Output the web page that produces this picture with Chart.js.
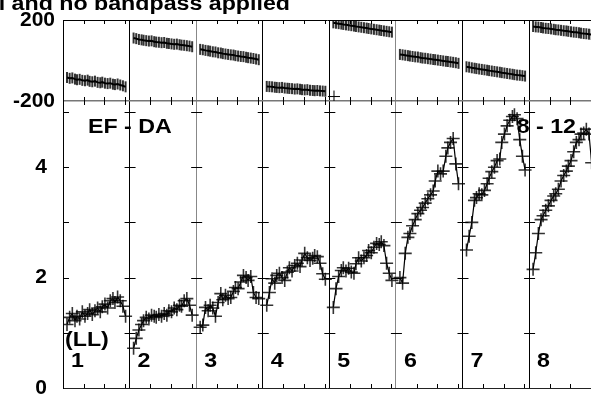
<!DOCTYPE html>
<html>
<head>
<meta charset="utf-8">
<script src="https://cdn.jsdelivr.net/npm/chart.js@4.4.0/dist/chart.umd.min.js"></script>
<style>
  body { margin: 0; background: #fff; }
  #wrap { width: 591px; height: 397px; }
</style>
</head>
<body>
<div id="wrap"><canvas id="vplot" width="591" height="397"></canvas></div>
<script>
// time of each sample inside a scan (fraction of the scan)
const scanTimes = [0.06, 0.10, 0.14, 0.18, 0.21, 0.25, 0.29, 0.33, 0.37, 0.40, 0.44, 0.48,
                   0.52, 0.56, 0.59, 0.63, 0.67, 0.71, 0.75, 0.78, 0.82, 0.86, 0.90, 0.94];
const scanLabels = ["1", "2", "3", "4", "5", "6", "7", "8"];
const timeTicks = [0.31, 0.62, 0.93];
const ampTickValues = [1, 2, 3, 4, 5];

// amplitude per scan
const amp1 = [1.15, 1.28, 1.35, 1.22, 1.30, 1.25, 1.38, 1.30, 1.35, 1.42, 1.33, 1.40, 1.45, 1.38, 1.47, 1.52, 1.45, 1.58, 1.62, 1.55, 1.65, 1.58, 1.48, 1.30];
const amp2 = [0.72, 0.90, 1.05, 1.15, 1.22, 1.28, 1.25, 1.32, 1.30, 1.28, 1.33, 1.30, 1.35, 1.32, 1.40, 1.38, 1.45, 1.42, 1.50, 1.48, 1.58, 1.62, 1.50, 1.32];
const amp3 = [1.10, 1.14, 1.46, 1.40, 1.50, 1.45, 1.30, 1.55, 1.71, 1.60, 1.68, 1.62, 1.64, 1.75, 1.82, 1.80, 1.92, 2.04, 2.00, 1.95, 2.02, 1.73, 1.64, 1.62];
const amp4 = [1.50, 1.73, 1.98, 1.90, 2.04, 2.08, 2.00, 1.95, 2.10, 2.18, 2.12, 2.22, 2.26, 2.20, 2.32, 2.44, 2.36, 2.31, 2.35, 2.40, 2.38, 2.26, 2.07, 1.97];
const amp5 = [1.46, 1.80, 2.02, 2.13, 2.18, 2.12, 2.17, 2.10, 2.08, 2.25, 2.36, 2.30, 2.36, 2.40, 2.49, 2.45, 2.55, 2.62, 2.60, 2.65, 2.58, 2.26, 2.08, 1.95];
const amp6 = [2.00, 1.90, 2.44, 2.73, 2.80, 2.94, 3.05, 3.16, 3.22, 3.27, 3.35, 3.43, 3.50, 3.57, 3.75, 3.93, 3.88, 3.93, 4.20, 4.35, 4.45, 4.52, 4.06, 3.70];
const amp7 = [2.50, 2.75, 3.00, 3.40, 3.45, 3.52, 3.50, 3.58, 3.70, 3.80, 3.92, 4.00, 4.12, 4.15, 4.45, 4.60, 4.75, 4.85, 4.92, 4.95, 4.88, 4.50, 4.20, 3.95];
const amp8 = [2.15, 2.45, 2.80, 3.05, 3.12, 3.22, 3.30, 3.40, 3.48, 3.52, 3.60, 3.75, 3.85, 3.93, 4.02, 4.12, 4.28, 4.45, 4.50, 4.60, 4.62, 4.69, 4.60, 4.08];

// phase per scan (degrees)
const phase1 = [-84, -88, -86, -92, -95, -93, -98, -100, -97, -103, -105, -102, -108, -110, -107, -112, -114, -112, -117, -119, -116, -121, -125, -130];
const phase2 = [111, 108, 104, 102, 100, 98, 96, 97, 93, 91, 90, 88, 89, 85, 84, 82, 80, 81, 78, 76, 75, 73, 71, 68];
const phase3 = [55, 53, 50, 48, 46, 43, 42, 38, 37, 34, 32, 30, 28, 27, 24, 22, 20, 19, 16, 14, 12, 10, 7, 4];
const phase4 = [-128, -129, -130, -132, -133, -134, -133, -136, -137, -138, -139, -141, -140, -142, -144, -145, -144, -147, -148, -149, -148, -150, -151, -152];
const phase5 = [186, 184, 182, 180, 178, 176, 174, 172, 170, 168, 166, 164, 162, 160, 158, 156, 154, 152, 150, 148, 146, 144, 142, 140];
const phase6 = [30, 28, 26, 24, 22, 20, 18, 17, 14, 12, 11, 9, 7, 5, 4, 2, 0, -2, -4, -5, -7, -9, -11, -14];
const phase7 = [-31, -33, -36, -38, -40, -42, -44, -46, -48, -50, -52, -54, -56, -58, -60, -62, -64, -66, -68, -70, -72, -73, -75, -77];
const phase8 = [168, 166, 165, 163, 161, 159, 158, 156, 154, 152, 151, 149, 147, 146, 144, 142, 140, 139, 137, 135, 133, 132, 130, 128];
// one wrapped phase sample at the start of scan 5
const strayScan = [4];
const strayTime = [0.07];
const strayPhase = [-178];

const ampScans = [amp1, amp2, amp3, amp4, amp5, amp6, amp7, amp8];
const phaseScans = [phase1, phase2, phase3, phase4, phase5, phase6, phase7, phase8];

const FONT = "'Liberation Sans', Arial, sans-serif";

const datasets = [];
ampScans.forEach((vals, s) => {
  datasets.push({
    yAxisID: "amp",
    data: vals.map((v, i) => ({ x: s + scanTimes[i], y: v })),
    borderColor: "#000",
    borderWidth: 1.2,
    pointStyle: "cross",
    pointRadius: 6.5,
    pointBorderWidth: 1.6,
    pointBorderColor: "rgba(0,0,0,0.8)",
    tension: 0,
  });
});
phaseScans.forEach((vals, s) => {
  datasets.push({
    yAxisID: "ph",
    data: vals.map((v, i) => ({ x: s + scanTimes[i], y: v })),
    borderColor: "#000",
    borderWidth: 2,
    pointStyle: "line",
    rotation: 90,
    pointRadius: 5.5,
    pointBorderWidth: 2,
    pointBorderColor: "rgba(0,0,0,0.8)",
    tension: 0,
  });
});
datasets.push({
  yAxisID: "ph",
  data: strayPhase.map((v, i) => ({ x: strayScan[i] + strayTime[i], y: v })),
  showLine: false,
  pointStyle: "cross",
  pointRadius: 6,
  pointBorderWidth: 1,
  pointBorderColor: "#000",
});

function wideText(ctx, str, px, py, align) {
  ctx.save();
  ctx.translate(px, py);
  ctx.scale(1.16, 1);
  ctx.textAlign = align || "left";
  ctx.fillText(str, 0, 0);
  ctx.restore();
}

const vplotDecor = {
  id: "vplotDecor",
  beforeDatasetsDraw(chart) {
    const { ctx, chartArea } = chart;
    const { x, amp, ph } = chart.scales;
    const top = ph.getPixelForValue(200);
    const mid = ph.getPixelForValue(-200);
    const bot = amp.getPixelForValue(0);
    ctx.save();
    ctx.strokeStyle = "#000";
    ctx.lineWidth = 1;
    ctx.beginPath();
    // time ticks on the frame lines
    for (let s = 0; s < scanLabels.length; s++) {
      for (const f of timeTicks) {
        const px = Math.round(x.getPixelForValue(s + f)) + 0.5;
        if (px > chartArea.right) continue;
        ctx.moveTo(px, top); ctx.lineTo(px, top + 4);
        ctx.moveTo(px, mid - 4); ctx.lineTo(px, mid + 4);
        ctx.moveTo(px, bot - 4); ctx.lineTo(px, bot);
      }
    }
    // amplitude ticks across scan dividers
    for (const v of ampTickValues) {
      const py = Math.round(amp.getPixelForValue(v)) + 0.5;
      for (let s = 0; s < scanLabels.length; s++) {
        const px = x.getPixelForValue(s);
        ctx.moveTo(s === 0 ? px : px - 5, py);
        ctx.lineTo(px + 6, py);
      }
    }
    ctx.stroke();

    ctx.fillStyle = "#000";
    ctx.font = "bold 20px " + FONT;
    wideText(ctx, "l and no bandpass applied", 290, 10, "right");
    wideText(ctx, "EF - DA", x.getPixelForValue(0) + 25, 133);
    wideText(ctx, "8 - 12", 576, 133, "right");
    wideText(ctx, "(LL)", x.getPixelForValue(0) + 2, 346);
    scanLabels.forEach((lab, s) => {
      wideText(ctx, lab, x.getPixelForValue(s) + 8, 367);
    });
    ctx.restore();
  },
};

const fixLeft = (scale) => {
  scale.width = 63;
  scale.paddingTop = 0;
  scale.paddingBottom = 0;
};

new Chart(document.getElementById("vplot"), {
  type: "line",
  data: { datasets },
  plugins: [vplotDecor],
  options: {
    responsive: false,
    animation: false,
    layout: { autoPadding: false, padding: { top: 20, left: 0, right: 0, bottom: 0 } },
    plugins: { legend: { display: false }, tooltip: { enabled: false } },
    scales: {
      x: {
        type: "linear",
        min: 0,
        max: 7.93,
        ticks: { display: false, stepSize: 1, includeBounds: false },
        grid: {
          drawTicks: false,
          color: (c) => (c.index === 2 || c.index === 5 ? "#888" : "#000"),
          lineWidth: 1,
        },
        border: { display: true, color: "#222", width: 1 },
        afterFit: (scale) => {
          scale.height = 9;
          scale.paddingLeft = 0;
          scale.paddingRight = 0;
        },
      },
      amp: {
        type: "linear",
        position: "left",
        stack: "panels",
        stackWeight: 287,
        min: 0,
        max: 5.2,
        ticks: {
          stepSize: 1,
          includeBounds: false,
          padding: 8,
          color: "#000",
          font: { family: FONT, weight: "bold", size: 21 },
          callback: (v) => (v % 2 === 0 ? String(v) : ""),
        },
        grid: { display: false },
        border: { display: true, color: "#000", width: 1 },
        afterFit: fixLeft,
      },
      ph: {
        type: "linear",
        position: "left",
        stack: "panels",
        stackWeight: 81,
        min: -200,
        max: 200,
        ticks: {
          stepSize: 200,
          padding: 8,
          color: "#000",
          font: { family: FONT, weight: "bold", size: 21 },
          callback: (v) => (v === 0 ? "" : String(v)),
        },
        grid: {
          drawTicks: false,
          color: (c) => (c.tick && c.tick.value === -200 ? "#777" : "#000"),
          lineWidth: (c) => (c.tick && c.tick.value === -200 ? 1.5 : 1),
        },
        border: { display: true, color: "#000", width: 1 },
        afterFit: fixLeft,
      },
    },
  },
});
</script>
</body>
</html>
